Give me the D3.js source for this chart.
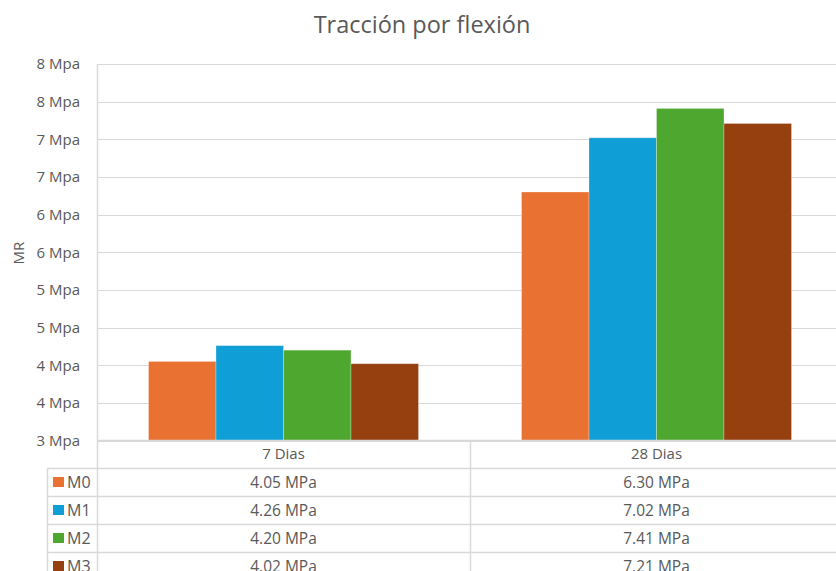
<!DOCTYPE html>
<html><head><meta charset="utf-8">
<script src="https://cdn.jsdelivr.net/npm/d3@7"></script>
<style>body{margin:0;background:#fff}svg{display:block}</style>
</head><body>
<svg id="c" width="836" height="571"></svg>
<script>
const categories = ["7 Dias", "28 Dias"];
const seriesNames = ["M0", "M1", "M2", "M3"];
const M0 = [4.05, 6.30];
const M1 = [4.26, 7.02];
const M2 = [4.20, 7.41];
const M3 = [4.02, 7.21];
const seriesValues = [M0, M1, M2, M3];
const colors = ["#E97132", "#0F9ED5", "#4EA72E", "#963F0F"];
const tickValues = [3, 3.5, 4, 4.5, 5, 5.5, 6, 6.5, 7, 7.5, 8];
const tickLabels = ["3 Mpa","4 Mpa","4 Mpa","5 Mpa","5 Mpa","6 Mpa","6 Mpa","7 Mpa","7 Mpa","8 Mpa","8 Mpa"];
const tableLabels = [["4.05 MPa","6.30 MPa"],["4.26 MPa","7.02 MPa"],["4.20 MPa","7.41 MPa"],["4.02 MPa","7.21 MPa"]];

(function(){
const font = "'Open Sans', 'Liberation Sans', sans-serif";
const svg = d3.select("#c");
const pLeft = 97, pRight = 843, pTop = 64, pBottom = 440.5;
const grid = "#d9d9d9", textC = "#595959";

const y = d3.scaleLinear().domain([3, 8]).range([pBottom, pTop]);
const x0 = d3.scaleBand().domain(categories).range([pLeft, pRight]).padding(0);
const gap = 103;
const x1 = d3.scaleBand().domain(seriesNames).range([gap/2, x0.bandwidth() - gap/2]).padding(0);

// title
svg.append("text").attr("x", 422).attr("y", 33).attr("text-anchor", "middle")
  .attr("font-family", font).attr("font-size", 23.5).attr("fill", textC).text("Tracción por flexión");

// gridlines
svg.append("g").selectAll("line").data(tickValues).join("line")
  .attr("x1", pLeft).attr("x2", pRight)
  .attr("y1", d => Math.round(y(d)) + 0.5).attr("y2", d => Math.round(y(d)) + 0.5)
  .attr("stroke", grid).attr("stroke-width", 1);

// y axis labels
const yAxis = d3.axisLeft(y).tickValues(tickValues).tickFormat((d, i) => tickLabels[i]).tickSize(0).tickPadding(17);
const ga = svg.append("g").attr("transform", `translate(${pLeft},0)`).call(yAxis);
ga.select(".domain").remove();
ga.selectAll("text").attr("font-family", font).attr("font-size", 15).attr("fill", textC);

// axis title
svg.append("text").attr("transform", "translate(24,253) rotate(-90)").attr("text-anchor", "middle")
  .attr("font-family", font).attr("font-size", 15).attr("fill", textC).text("MR");

// bars
const groups = svg.append("g").selectAll("g").data(seriesNames).join("g").attr("fill", (d, i) => colors[i]);
groups.selectAll("rect").data((s, si) => categories.map((c, ci) => ({c, s, v: seriesValues[si][ci]}))).join("rect")
  .attr("x", d => x0(d.c) + x1(d.s)).attr("width", x1.bandwidth())
  .attr("y", d => y(d.v)).attr("height", d => pBottom - y(d.v))
  .attr("stroke", "rgba(255,255,255,0.35)").attr("stroke-width", 0.8);

// data table
const rowTop = [440.5, 468, 496, 524, 552, 580];
const tbl = svg.append("g");
[468, 496, 524, 552].forEach(yy => {
  tbl.append("line").attr("x1", 47).attr("x2", pRight).attr("y1", yy + 0.5).attr("y2", yy + 0.5)
    .attr("stroke", grid).attr("stroke-width", 1.5);
});
tbl.append("line").attr("x1", pLeft).attr("x2", pRight).attr("y1", pBottom).attr("y2", pBottom)
  .attr("stroke", grid).attr("stroke-width", 1.5);
tbl.append("line").attr("x1", pLeft + 0.5).attr("x2", pLeft + 0.5).attr("y1", pTop).attr("y2", 571)
  .attr("stroke", grid).attr("stroke-width", 1.5);
tbl.append("line").attr("x1", 47.5).attr("x2", 47.5).attr("y1", 468).attr("y2", 571)
  .attr("stroke", grid).attr("stroke-width", 1.5);
tbl.append("line").attr("x1", x0("28 Dias") + 0.5).attr("x2", x0("28 Dias") + 0.5).attr("y1", pBottom).attr("y2", 571)
  .attr("stroke", grid).attr("stroke-width", 1.5);

tbl.selectAll("text.cat").data(categories).join("text").attr("class", "cat")
  .attr("x", d => x0(d) + x0.bandwidth() / 2).attr("y", 459).attr("text-anchor", "middle")
  .attr("font-family", font).attr("font-size", 15).attr("fill", textC).text(d => d);

seriesNames.forEach((s, si) => {
  const cy = (rowTop[si + 1] + rowTop[si + 2]) / 2;
  tbl.append("rect").attr("x", 53).attr("y", cy - 5).attr("width", 11).attr("height", 10).attr("fill", colors[si]);
  tbl.append("text").attr("x", 67).attr("y", cy + 5.5).attr("font-family", font).attr("font-size", 16)
    .attr("fill", textC).text(s);
  categories.forEach((c, ci) => {
    tbl.append("text").attr("x", x0(c) + x0.bandwidth() / 2).attr("y", cy + 5.5).attr("text-anchor", "middle")
      .attr("font-family", font).attr("font-size", 15.5).attr("fill", textC).text(tableLabels[si][ci]);
  });
});
})();
</script>
</body></html>
